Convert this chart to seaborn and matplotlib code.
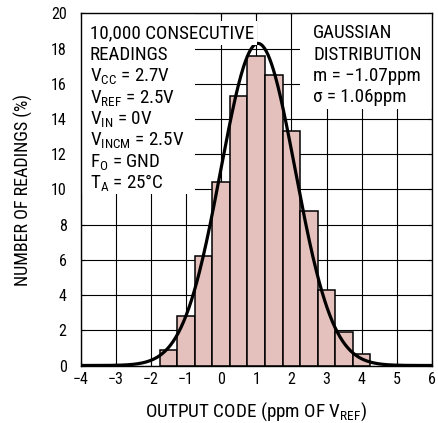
import numpy as np
import pandas as pd
import matplotlib
matplotlib.use("Agg")
import matplotlib.pyplot as plt
from matplotlib import font_manager
from matplotlib.patches import Rectangle
import seaborn as sns

# ---- data ----
bin_centers = [-1.5, -1.0, -0.5, 0.0, 0.5, 1.0, 1.5, 2.0, 2.5, 3.0, 3.5, 4.0]
percent = [0.9, 2.8, 6.2, 10.4, 15.3, 17.6, 16.5, 13.3, 8.8, 4.3, 1.9, 0.65]
bin_width = 0.5
fit_mean = 1.05
fit_sigma = 1.06
fit_peak = 18.3
x_ticks = [-4, -3, -2, -1, 0, 1, 2, 3, 4, 5, 6]
y_ticks = [0, 2, 4, 6, 8, 10, 12, 14, 16, 18, 20]
left_notes = [
    "10,000 CONSECUTIVE",
    "READINGS",
    r"V$_{\mathregular{CC}}$ = 2.7V",
    r"V$_{\mathregular{REF}}$ = 2.5V",
    r"V$_{\mathregular{IN}}$ = 0V",
    r"V$_{\mathregular{INCM}}$ = 2.5V",
    r"F$_{\mathregular{O}}$ = GND",
    r"T$_{\mathregular{A}}$ = 25°C",
]
right_notes = ["GAUSSIAN", "DISTRIBUTION", "m = \u22121.07ppm", "\u03c3 = 1.06ppm"]

sns.set_theme(style="ticks")

# pick a condensed sans face if one is installed, else Liberation Sans
installed = {f.name for f in font_manager.fontManager.ttflist}
condensed = None
for nm in ["Liberation Sans Narrow", "Roboto Condensed", "Open Sans Condensed", "Arial Narrow"]:
    if nm in installed:
        condensed = nm
        break
if condensed:
    MAIN = condensed
    NOTE_SIZE, TICK_SIZE, XLABEL_SIZE, YLABEL_SIZE = 13.7, 11.5, 13.8, 13.0
else:
    MAIN = "Liberation Sans"
    NOTE_SIZE, TICK_SIZE, XLABEL_SIZE, YLABEL_SIZE = 11, 10.5, 11.2, 11.2

plt.rcParams["font.family"] = [MAIN, "DejaVu Sans"]
plt.rcParams["mathtext.fontset"] = "custom"
plt.rcParams["mathtext.rm"] = MAIN
plt.rcParams["mathtext.default"] = "regular"
plt.rcParams["axes.unicode_minus"] = True

fig = plt.figure(figsize=(4.38, 4.23), dpi=100)
fig.patch.set_facecolor("white")
W, H = 438, 423
ax = fig.add_axes([80.5 / W, 1 - 365.5 / H, 351.5 / W, 352 / H])
ax.set_facecolor("white")

df = pd.DataFrame({"code": bin_centers, "pct": percent})
sns.histplot(data=df, x="code", weights="pct", binwidth=bin_width,
             binrange=(min(bin_centers) - bin_width / 2, max(bin_centers) + bin_width / 2),
             color="#E4C1BC", alpha=1.0, edgecolor="black", linewidth=1.1, ax=ax, zorder=2)

xs = np.linspace(-4, 6, 400)
curve = pd.DataFrame({"x": xs, "y": fit_peak * np.exp(-((xs - fit_mean) ** 2) / (2 * fit_sigma ** 2))})
sns.lineplot(data=curve, x="x", y="y", color="black", linewidth=2.3, ax=ax, zorder=3)

ax.set_xlim(-4, 6)
ax.set_ylim(0, 20)
ax.set_xticks(x_ticks)
ax.set_yticks(y_ticks)
ax.grid(True, color="black", linewidth=0.8)
ax.set_axisbelow(True)

# white knock-out areas behind the annotations
ax.add_patch(Rectangle((-4, 9.75), 3.25, 10.25, facecolor="white", edgecolor="none", zorder=1.5))
ax.add_patch(Rectangle((2.25, 14.6), 3.75, 5.4, facecolor="white", edgecolor="none", zorder=1.5))

for s in ax.spines.values():
    s.set_color("black")
    s.set_linewidth(1.0)
    s.set_zorder(5)

ax.tick_params(axis="both", direction="in", length=3, width=0.8, colors="black",
               top=True, right=True, labelsize=TICK_SIZE)
ax.tick_params(axis="x", pad=5)
ax.tick_params(axis="y", pad=10)

ax.set_xlabel(r"OUTPUT CODE (ppm OF V$_{\mathregular{REF}}$)", fontsize=XLABEL_SIZE, color="black")
ax.set_ylabel("NUMBER OF READINGS (%)", fontsize=YLABEL_SIZE, color="black")
ax.xaxis.set_label_coords(0.5, -0.10)
ax.yaxis.set_label_coords(-0.135, 0.5)

base = (365.5 - 38.3) / 352
step = 21.4 / 352
for i, t in enumerate(left_notes):
    ax.text(0.027, base - i * step, t, transform=ax.transAxes, fontsize=NOTE_SIZE, va="baseline",
            ha="left", color="black", zorder=4,
            bbox=dict(facecolor="white", edgecolor="none", pad=2.0) if i == 0 else None)
for i, t in enumerate(right_notes):
    ax.text(0.662, base - i * step, t, transform=ax.transAxes, fontsize=NOTE_SIZE, va="baseline",
            ha="left", color="black", zorder=4)

fig.savefig("out.png", dpi=100, facecolor="white")
